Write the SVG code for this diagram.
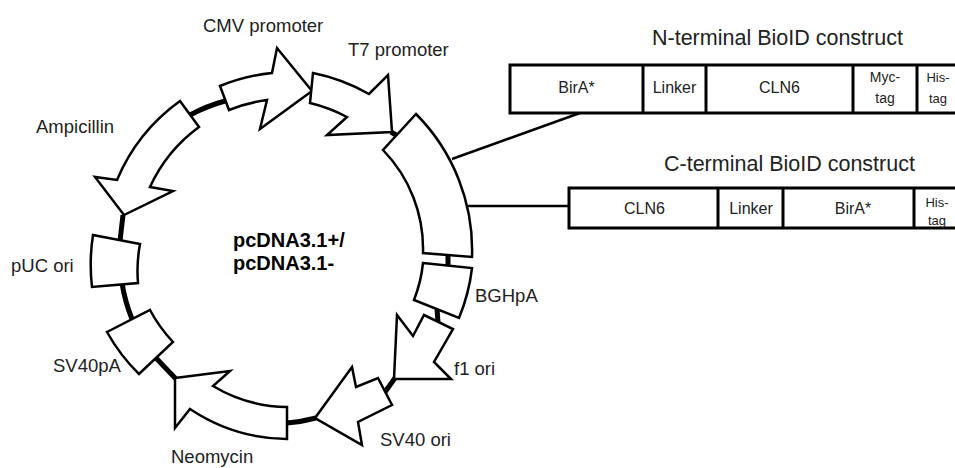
<svg xmlns="http://www.w3.org/2000/svg" width="955" height="468" viewBox="0 0 955 468">
<style>
.shape{fill:#fff;stroke:#000;stroke-width:2.5;stroke-linejoin:miter}
.bb{fill:none;stroke:#000;stroke-width:5}
.ln{fill:none;stroke:#000;stroke-width:2.5}
.box{fill:#fff;stroke:#000;stroke-width:3}
text{font-family:"Liberation Sans",Arial,sans-serif;fill:#222}
.lbl{font-size:18.5px}
.ttl{font-size:21.5px}
.bx{font-size:16px;text-anchor:middle}
.sm{font-size:14px;text-anchor:middle}
.xs{font-size:13px;text-anchor:middle}
.ctr{font-size:20px;font-weight:bold;fill:#000}
</style>
<rect width="955" height="468" fill="#fff"/>
<g id="connectors">
<path class="bb" d="M190,115 A165,165 0 0 1 225,101"/>
<path class="bb" d="M391,132 L396,135"/>
<path class="bb" d="M448,255 L448,265"/>
<path class="bb" d="M437,308 L438,323"/>
<path class="bb" d="M385,392 L395,378"/>
<path class="bb" d="M287,423 A165,165 0 0 0 316,418"/>
<path class="bb" d="M156,358 L176,379"/>
<path class="bb" d="M122,283 A165,165 0 0 0 132,319"/>
<path class="bb" d="M123,215 L120,241"/>
<path class="ln" d="M452,159 L580,113"/>
<path class="ln" d="M468,206 L569,206"/>
</g>
<g id="ampicillin">
<path class="shape" d="M180,101 L199,127 A153,153 0 0 0 150,187 L173,191 L124,215 L95,177 L117,180 A186,186 0 0 1 180,101 Z"/>
<text class="lbl" x="36" y="133">Ampicillin</text>
</g>
<g id="cmv">
<path class="shape" d="M220,86 A185,185 0 0 1 272,73 L277,48 L312,91 L260,129 L267,100 A159,159 0 0 0 229,110 Z"/>
<text class="lbl" x="203" y="32">CMV promoter</text>
</g>
<g id="t7">
<path class="shape" d="M313,73 A187,187 0 0 1 369,94 L388,75 L392,132 L327,135 L347,117 A157,157 0 0 0 310,103 Z"/>
<text class="lbl" x="348" y="56">T7 promoter</text>
</g>
<g id="mcs">
<path class="shape" d="M416,114 A193,193 0 0 1 472,257 L423,253 A142,142 0 0 0 383,150 Z"/>
</g>
<g id="bghpa">
<path class="shape" d="M423,263 L472,268 A188,188 0 0 1 459,318 L414,300 A139,139 0 0 0 423,263 Z"/>
<text class="lbl" x="475" y="302">BGHpA</text>
</g>
<g id="f1ori">
<path class="shape" d="M424,315 L453,329 L434,362 L451,379 L394,379 L397,315 L413,336 Z"/>
<text class="lbl" x="454" y="375">f1 ori</text>
</g>
<g id="sv40ori">
<path class="shape" d="M315,418 L352,367 L356,387 L378,378 L392,405 L358,422 L362,445 Z"/>
<text class="lbl" x="380" y="446">SV40 ori</text>
</g>
<g id="neomycin">
<path class="shape" d="M175,378 L230,371 L213,386 A147,147 0 0 0 287,407 L287,439 A178,178 0 0 1 190,409 L175,428 Z"/>
<text class="lbl" x="171" y="463">Neomycin</text>
</g>
<g id="sv40pa">
<path class="shape" d="M107,332 L150,310 A150,150 0 0 0 173,342 L139,374 A185,185 0 0 1 107,332 Z"/>
<text class="lbl" x="53" y="372">SV40pA</text>
</g>
<g id="puc">
<path class="shape" d="M93,235 L140,244 A145,145 0 0 0 138,283 L92,287 A192,192 0 0 1 93,235 Z"/>
<text class="lbl" x="11" y="272">pUC ori</text>
</g>
<g id="plasmid-name">
<text class="ctr" x="233" y="247">pcDNA3.1+/</text>
<text class="ctr" x="233" y="270">pcDNA3.1-</text>
</g>
<g id="n-terminal">
<text class="ttl" x="652" y="45">N-terminal BioID construct</text>
<rect class="box" x="510" y="65" width="450" height="48"/>
<path class="ln" d="M643,65 V113 M706,65 V113 M853,65 V113 M917,65 V113" style="stroke-width:3"/>
<text class="bx" x="576.5" y="93">BirA*</text>
<text class="bx" x="674.5" y="93">Linker</text>
<text class="bx" x="779.5" y="93">CLN6</text>
<text class="sm" x="885" y="82">Myc-</text>
<text class="sm" x="885" y="103">tag</text>
<text class="xs" x="938" y="82">His-</text>
<text class="xs" x="938" y="103">tag</text>
</g>
<g id="c-terminal">
<text class="ttl" x="664" y="171">C-terminal BioID construct</text>
<rect class="box" x="569" y="188" width="391" height="40"/>
<path class="ln" d="M718,188 V228 M783,188 V228 M914,188 V228" style="stroke-width:3"/>
<text class="bx" x="644.5" y="214">CLN6</text>
<text class="bx" x="751" y="214">Linker</text>
<text class="bx" x="853" y="214">BirA*</text>
<text class="xs" x="937" y="207">His-</text>
<text class="xs" x="937" y="225">tag</text>
</g>
</svg>
